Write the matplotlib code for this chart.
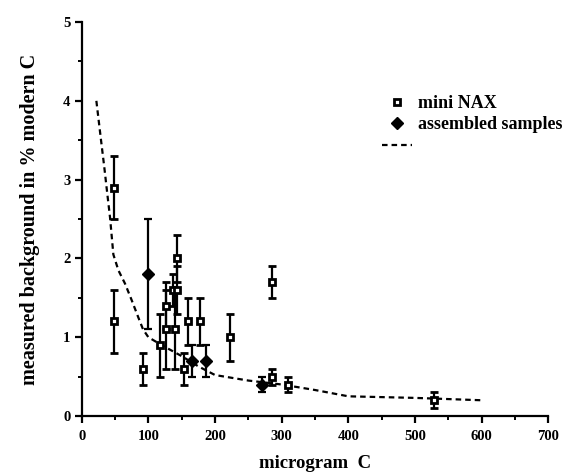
import matplotlib
matplotlib.use("Agg")
import matplotlib.pyplot as plt
from matplotlib.ticker import MultipleLocator
from matplotlib.lines import Line2D

# mini NAX
nax_x = [48, 48, 92, 118, 127, 127, 137, 140, 143, 143, 153, 160, 177, 222, 286, 286, 309, 529]
nax_y = [2.9, 1.2, 0.6, 0.9, 1.4, 1.1, 1.6, 1.1, 1.6, 2.0, 0.6, 1.2, 1.2, 1.0, 1.7, 0.5, 0.4, 0.2]
nax_err = [0.4, 0.4, 0.2, 0.4, 0.3, 0.5, 0.2, 0.5, 0.3, 0.3, 0.2, 0.3, 0.3, 0.3, 0.2, 0.1, 0.1, 0.1]

# assembled samples
asm_x = [100, 165, 187, 270]
asm_y = [1.8, 0.7, 0.7, 0.4]
asm_err = [0.7, 0.2, 0.2, 0.1]

# dashed curve
curve_x = [22, 29, 34, 38, 42.5, 47.5, 55, 65, 75, 85, 92, 100, 120, 150, 175, 200, 250, 300, 350, 400, 500, 600]
curve_y = [4.0, 3.5, 3.15, 2.85, 2.52, 2.05, 1.85, 1.68, 1.47, 1.25, 1.1, 1.0, 0.9, 0.76, 0.63, 0.52, 0.45, 0.4, 0.33, 0.25, 0.23, 0.2]

plt.rcParams['font.family'] = ['Liberation Serif', 'DejaVu Serif']
plt.rcParams['font.weight'] = 'bold'

fig = plt.figure(figsize=(5.63, 4.72), dpi=100)
ax = fig.add_axes([0.1451, 0.1186, 0.8290, 0.8347])

dash = (0, (2.5, 1.8))
ax.plot(curve_x, curve_y, linestyle=dash, color='black', linewidth=1.6)

ax.errorbar(nax_x, nax_y, yerr=nax_err, fmt='s', color='black', markersize=4.5,
            markerfacecolor='white', markeredgecolor='black', markeredgewidth=2,
            elinewidth=1.6, capsize=3, capthick=1.6, ecolor='black', zorder=3)
ax.errorbar(asm_x, asm_y, yerr=asm_err, fmt='D', color='black', markersize=6,
            markerfacecolor='black', markeredgecolor='black',
            elinewidth=1.6, capsize=3, capthick=1.6, ecolor='black', zorder=3)

ax.set_xlim(0, 700)
ax.set_ylim(0, 5)
ax.xaxis.set_major_locator(MultipleLocator(100))
ax.xaxis.set_minor_locator(MultipleLocator(50))
ax.yaxis.set_major_locator(MultipleLocator(1))
ax.yaxis.set_minor_locator(MultipleLocator(0.5))
ax.spines['top'].set_visible(False)
ax.spines['right'].set_visible(False)
ax.spines['left'].set_linewidth(1.6)
ax.spines['bottom'].set_linewidth(1.6)
ax.tick_params(which='major', direction='out', length=5, width=1.6, labelsize=10.5, pad=3)
ax.tick_params(axis='x', which='major', pad=5)
ax.tick_params(which='minor', direction='out', length=3, width=1.4)
for lab in ax.get_xticklabels() + ax.get_yticklabels():
    lab.set_fontweight('bold')

ax.set_xlabel('microgram  C', fontsize=13.5, fontweight='bold', labelpad=9)
ax.set_ylabel('measured background in % modern C', fontsize=14.5, fontweight='bold', labelpad=17)

handles = [
    Line2D([], [], marker='s', linestyle='none', color='black', markersize=4.5,
           markerfacecolor='white', markeredgewidth=2),
    Line2D([], [], marker='D', linestyle='none', color='black', markersize=6),
    Line2D([], [], linestyle=dash, color='black', linewidth=1.6),
]
ax.legend(handles, ['mini NAX', 'assembled samples', ''], loc='upper left',
          bbox_to_anchor=(0.6435, 0.815), frameon=False,
          handlelength=1.66, handletextpad=0.35, labelspacing=0.25,
          borderpad=0, borderaxespad=0,
          prop={'weight': 'bold', 'size': 13})

fig.savefig('out.png', dpi=100)
